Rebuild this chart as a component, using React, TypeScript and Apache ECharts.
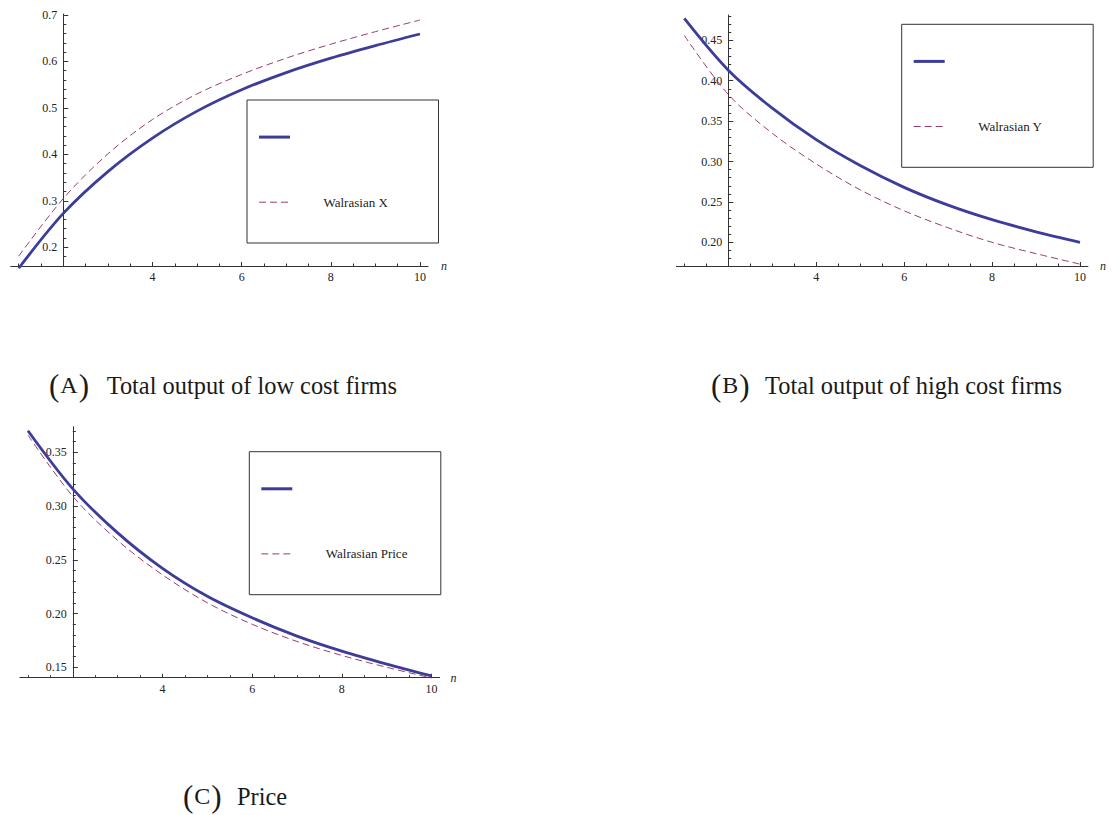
import React, { useEffect, useRef } from 'react';
import * as echarts from 'echarts';

// ---- data ----
const nValues = [1, 2, 3, 4, 5, 6, 7, 8, 9, 10];
const lowCostOutput = [0.155, 0.273, 0.363, 0.435, 0.493, 0.539, 0.576, 0.607, 0.634, 0.659];
const walrasianX = [0.181, 0.305, 0.401, 0.475, 0.53, 0.572, 0.607, 0.637, 0.664, 0.689];
const highCostOutput = [0.477, 0.413, 0.366, 0.327, 0.295, 0.268, 0.246, 0.228, 0.213, 0.2];
const walrasianY = [0.456, 0.383, 0.335, 0.297, 0.265, 0.239, 0.218, 0.2, 0.186, 0.173];
const marketPrice = [0.37, 0.316, 0.275, 0.242, 0.216, 0.196, 0.179, 0.165, 0.153, 0.142];
const walrasianPrice = [0.366, 0.309, 0.268, 0.236, 0.21, 0.19, 0.174, 0.161, 0.15, 0.14];

// ---- tick values ----
const xMajorTicks = [2, 4, 6, 8, 10];
const xTickLabels = [4, 6, 8, 10];
const xMinorTicks = [1, 1.5, 2.5, 3, 3.5, 4.5, 5, 5.5, 6.5, 7, 7.5, 8.5, 9, 9.5];
const yTicksA = [0.2, 0.3, 0.4, 0.5, 0.6, 0.7];
const yMinorA = [0.16, 0.18, 0.22, 0.24, 0.26, 0.28, 0.32, 0.34, 0.36, 0.38, 0.42, 0.44, 0.46, 0.48, 0.52, 0.54, 0.56, 0.58, 0.62, 0.64, 0.66, 0.68];
const yTicksB = [0.2, 0.25, 0.3, 0.35, 0.4, 0.45];
const yMinorB = [0.18, 0.19, 0.21, 0.22, 0.23, 0.24, 0.26, 0.27, 0.28, 0.29, 0.31, 0.32, 0.33, 0.34, 0.36, 0.37, 0.38, 0.39, 0.41, 0.42, 0.43, 0.44, 0.46, 0.47, 0.48];
const yTicksC = [0.15, 0.2, 0.25, 0.3, 0.35];
const yMinorC = [0.16, 0.17, 0.18, 0.19, 0.21, 0.22, 0.23, 0.24, 0.26, 0.27, 0.28, 0.29, 0.31, 0.32, 0.33, 0.34, 0.36, 0.37];

const SOLID = '#3d3d99';
const DASHED = '#993d71';
const AXIS = '#333333';
const TXT = '#222222';
const SERIF = '"Liberation Serif", "Times New Roman", serif';
const DASH = [7, 4];

type Panel = {
  left: number; top: number; width: number; height: number;
  xMin: number; xMax: number; yMin: number; yMax: number;
  yMajor: number[]; yMinor: number[]; digits: number;
  solid: number[]; dashed: number[]; solidName: string; dashedName: string;
  box: { x: number; y: number }; nameGap: number;
};

const panels: Panel[] = [
  {
    left: 10.7, top: 14, width: 417.3, height: 252,
    xMin: 0.82, xMax: 10.18, yMin: 0.1598, yMax: 0.702,
    yMajor: yTicksA, yMinor: yMinorA, digits: 1,
    solid: lowCostOutput, dashed: walrasianX, solidName: 'Cournot X', dashedName: 'Walrasian X',
    box: { x: 247, y: 100 }, nameGap: 13,
  },
  {
    left: 676.4, top: 15, width: 411.5, height: 251,
    xMin: 0.82, xMax: 10.18, yMin: 0.1707, yMax: 0.4813,
    yMajor: yTicksB, yMinor: yMinorB, digits: 2,
    solid: highCostOutput, dashed: walrasianY, solidName: 'Cournot Y', dashedName: 'Walrasian Y',
    box: { x: 901.7, y: 24.3 }, nameGap: 12,
  },
  {
    left: 19.9, top: 426.7, width: 419.7, height: 251,
    xMin: 0.82, xMax: 10.18, yMin: 0.1403, yMax: 0.3738,
    yMajor: yTicksC, yMinor: yMinorC, digits: 2,
    solid: marketPrice, dashed: walrasianPrice, solidName: 'Cournot Price', dashedName: 'Walrasian Price',
    box: { x: 249.3, y: 451.7 }, nameGap: 11,
  },
];

const captions = [
  { tag: 'A', text: 'Total output of low cost firms', x: 49, tx: 106.7, y: 385 },
  { tag: 'B', text: 'Total output of high cost firms', x: 711, tx: 765, y: 385 },
  { tag: 'C', text: 'Price', x: 183, tx: 237, y: 796 },
];

function buildOption() {
  const grid: any[] = [];
  const xAxis: any[] = [];
  const yAxis: any[] = [];
  const series: any[] = [];
  const legend: any[] = [];
  const graphic: any[] = [];

  panels.forEach((p, i) => {
    grid.push({ left: p.left, top: p.top, width: p.width, height: p.height, containLabel: false, outerBoundsMode: 'none' });
    const yOffset = -((2 - p.xMin) / (p.xMax - p.xMin)) * p.width;
    const base = { type: 'value', gridIndex: i, splitLine: { show: false } };
    xAxis.push({
      ...base, min: p.xMin, max: p.xMax, position: 'bottom',
      axisLine: { show: true, onZero: false, lineStyle: { color: AXIS, width: 1 } },
      axisTick: { show: true, inside: true, length: 4, customValues: xMajorTicks, lineStyle: { color: AXIS, width: 1 } },
      axisLabel: { show: true, customValues: xTickLabels, margin: 5, fontFamily: SERIF, fontSize: 12, color: TXT, formatter: (v: number) => String(v) },
      name: 'n', nameLocation: 'end', nameGap: p.nameGap,
      nameTextStyle: { fontStyle: 'italic', fontFamily: SERIF, fontSize: 12, color: TXT, verticalAlign: 'middle', padding: [3, 0, 0, 0] },
    });
    xAxis.push({
      ...base, min: p.xMin, max: p.xMax, position: 'bottom',
      axisLine: { show: false, onZero: false },
      axisTick: { show: true, inside: true, length: 2.5, customValues: xMinorTicks, lineStyle: { color: AXIS, width: 1 } },
      axisLabel: { show: false },
    });
    yAxis.push({
      ...base, min: p.yMin, max: p.yMax, position: 'left', offset: yOffset,
      axisLine: { show: true, onZero: false, lineStyle: { color: AXIS, width: 1 } },
      axisTick: { show: true, inside: true, length: 5, customValues: p.yMajor, lineStyle: { color: AXIS, width: 1 } },
      axisLabel: { show: true, customValues: p.yMajor, margin: 6, fontFamily: SERIF, fontSize: 12, color: TXT, formatter: (v: number) => v.toFixed(p.digits) },
    });
    yAxis.push({
      ...base, min: p.yMin, max: p.yMax, position: 'left', offset: yOffset,
      axisLine: { show: false, onZero: false },
      axisTick: { show: true, inside: true, length: 3, customValues: p.yMinor, lineStyle: { color: AXIS, width: 1 } },
      axisLabel: { show: false },
    });

    series.push({
      type: 'line', name: p.solidName, xAxisIndex: 2 * i, yAxisIndex: 2 * i,
      data: nValues.map((n, k) => [n, p.solid[k]]),
      smooth: 0.33, symbol: 'none', showSymbol: false, clip: false, silent: true,
      lineStyle: { color: SOLID, width: 2.8 }, itemStyle: { color: SOLID }, z: 3,
    });
    series.push({
      type: 'line', name: p.dashedName, xAxisIndex: 2 * i, yAxisIndex: 2 * i,
      data: nValues.map((n, k) => [n, p.dashed[k]]),
      smooth: 0.33, symbol: 'none', showSymbol: false, clip: false, silent: true,
      lineStyle: { color: DASHED, width: 1, type: DASH }, itemStyle: { color: DASHED }, z: 4,
    });

    graphic.push({
      type: 'rect', z: 1,
      shape: { x: p.box.x, y: p.box.y, width: 191.5, height: 143 },
      style: { fill: '#ffffff', stroke: AXIS, lineWidth: 1 },
    });
    legend.push({
      show: true, orient: 'vertical', left: p.box.x + 10.5, top: p.box.y + 31.5, padding: 0,
      itemWidth: 31, itemHeight: 14, itemGap: 52.5, selectedMode: false,
      data: [
        { name: p.solidName, lineStyle: { color: SOLID, width: 3 } },
        { name: p.dashedName, lineStyle: { color: DASHED, width: 1, type: DASH } },
      ],
      itemStyle: { color: 'rgba(0,0,0,0)', borderWidth: 0, opacity: 0 },
      formatter: (name: string) => (name.indexOf('Walrasian') === 0 ? name : ''),
      textStyle: { fontFamily: SERIF, fontSize: 13, color: TXT, lineHeight: 14, padding: [0, 0, 0, 28.5] },
    });
  });

  captions.forEach((c) => {
    graphic.push({
      type: 'text', x: c.x, y: c.y,
      style: {
        text: '{p|(}{c|' + c.tag + '}{p|)}',
        verticalAlign: 'middle', align: 'left', fill: '#1a1a1a',
        rich: {
          p: { fontFamily: SERIF, fontSize: 31, verticalAlign: 'middle', fill: '#1a1a1a' },
          c: { fontFamily: SERIF, fontSize: 24, verticalAlign: 'middle', fill: '#1a1a1a', padding: [0, 1, 0, 1] },
        },
      },
    });
    graphic.push({
      type: 'text', x: c.tx, y: c.y,
      style: { text: c.text, fontFamily: SERIF, fontSize: 24.4, fill: '#1a1a1a', verticalAlign: 'middle', align: 'left' },
    });
  });

  return {
    animation: false,
    backgroundColor: '#ffffff',
    grid, xAxis, yAxis, series, legend, graphic,
  };
}

export default function App() {
  const ref = useRef<HTMLDivElement>(null);
  useEffect(() => {
    document.body.style.margin = '0';
    document.body.style.overflow = 'hidden';
    if (!ref.current) return;
    const chart = echarts.init(ref.current, null, { renderer: 'svg' });
    chart.setOption(buildOption() as any);
    return () => chart.dispose();
  }, []);
  return <div ref={ref} style={{ width: 1118, height: 815 }} />;
}
